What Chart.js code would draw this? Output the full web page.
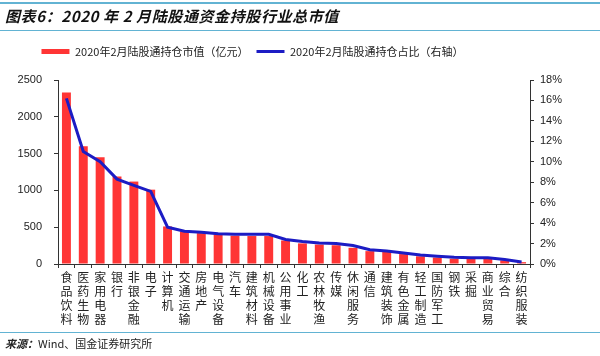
<!DOCTYPE html>
<html>
<head>
<meta charset="utf-8">
<script src="https://cdn.jsdelivr.net/npm/chart.js@4/dist/chart.umd.min.js"></script>
<style>
  html, body { margin: 0; padding: 0; background: #fff; }
  #wrap { position: relative; width: 600px; height: 356px; overflow: hidden; }
  #c { position: absolute; left: 0; top: 0; }
  .rule { position: absolute; left: 0; width: 600px; background: #62b3d3; }
  #title { position: absolute; left: 5px; top: 5px; font: italic bold 15px "Noto Sans CJK SC", sans-serif; letter-spacing: 0.6px; color: #111; line-height: 21px; white-space: nowrap; }
  #source { position: absolute; left: 5px; top: 336px; font: 11px "Noto Sans CJK SC", sans-serif; color: #222; line-height: 15px; white-space: nowrap; }
  #source b { font-style: italic; }
</style>
</head>
<body>
<div id="wrap">
  <canvas id="c" width="600" height="356"></canvas>
  <div class="rule" style="top:2px;height:2px;"></div>
  <div id="title">图表6：2020 年 2 月陆股通资金持股行业总市值</div>
  <div class="rule" style="top:30px;height:1px;"></div>
  <div class="rule" style="top:332px;height:1px;"></div>
  <div id="source"><b>来源：</b>Wind、国金证券研究所</div>
</div>
<script>
const categories = ["食品饮料","医药生物","家用电器","银行","非银金融","电子","计算机","交通运输","房地产","电气设备","汽车","建筑材料","机械设备","公用事业","化工","农林牧渔","传媒","休闲服务","通信","建筑装饰","有色金属","轻工制造","国防军工","钢铁","采掘","商业贸易","综合","纺织服装"];
const marketValue = [2330,1600,1450,1190,1120,1010,510,440,420,400,385,380,380,320,280,265,255,220,175,165,135,105,88,72,72,70,50,25];
const sharePct = [16.2,11.0,10.0,8.3,7.7,7.1,3.6,3.2,3.1,2.95,2.9,2.9,2.9,2.4,2.2,2.05,2.0,1.8,1.4,1.28,1.08,0.88,0.75,0.65,0.62,0.62,0.45,0.2];
const leftTicks = [0,500,1000,1500,2000,2500];
const rightTicks = [0,2,4,6,8,10,12,14,16,18];
const seriesNames = ["2020年2月陆股通持仓市值（亿元）","2020年2月陆股通持仓占比（右轴）"];

const legendMargin = {
  id: 'legendMargin',
  beforeInit(chart) {
    const fit = chart.legend.fit;
    chart.legend.fit = function () { fit.call(this); this.height += 13; };
  },
  afterLayout(chart) {
    chart.legend.left = 0;
    chart.legend.right = 505;
  }
};

new Chart(document.getElementById('c'), {
  type: 'bar',
  data: {
    labels: categories.map(s => s.split('')),
    datasets: [
      {
        type: 'line',
        label: seriesNames[1],
        data: sharePct,
        yAxisID: 'y1',
        borderColor: '#1c1cc4',
        backgroundColor: '#1c1cc4',
        borderWidth: 3,
        pointRadius: 0,
        pointStyle: 'line',
        tension: 0,
        order: 0
      },
      {
        type: 'bar',
        label: seriesNames[0],
        data: marketValue,
        yAxisID: 'y',
        backgroundColor: '#ff3535',
        borderWidth: 0,
        pointStyle: 'rect',
        barPercentage: 0.53,
        categoryPercentage: 1.0,
        order: 1
      }
    ]
  },
  options: {
    responsive: false,
    animation: false,
    layout: { padding: { top: 38, left: 0, right: 0, bottom: 0 } },
    plugins: {
      tooltip: { enabled: false },
      legend: {
        position: 'top',
        align: 'center',
        reverse: true,
        labels: {
          usePointStyle: true,
          pointStyleWidth: 28,
          boxHeight: 5,
          padding: 8,
          color: '#222',
          font: { family: '"Noto Sans CJK SC", sans-serif', size: 11 }
        }
      }
    },
    scales: {
      x: {
        grid: { display: true, drawOnChartArea: false, offset: true, tickLength: 4, color: '#333' },
        border: { display: true, color: '#333', width: 1 },
        ticks: {
          maxRotation: 0, minRotation: 0, autoSkip: false, padding: 2,
          color: '#222',
          font: { family: '"Noto Sans CJK SC", sans-serif', size: 12, lineHeight: '14px' }
        },
        afterFit(scale) { scale.height = 92; }
      },
      y: {
        position: 'left',
        min: 0, max: 2500,
        afterBuildTicks(scale) { scale.ticks = leftTicks.map(v => ({ value: v })); },
        grid: { display: true, drawOnChartArea: false, tickLength: 4, color: '#333' },
        border: { display: true, color: '#333', width: 1 },
        ticks: { padding: 12, color: '#222', font: { family: '"Liberation Sans", Arial, sans-serif', size: 11 }, callback: v => String(v) },
        afterFit(scale) { scale.width = 58; }
      },
      y1: {
        position: 'right',
        min: 0, max: 18,
        afterBuildTicks(scale) { scale.ticks = rightTicks.map(v => ({ value: v })); },
        grid: { display: true, drawOnChartArea: false, tickLength: 4, color: '#333' },
        border: { display: true, color: '#333', width: 1 },
        ticks: { padding: 6, color: '#222', font: { family: '"Liberation Sans", Arial, sans-serif', size: 11 }, callback: v => v + '%' },
        afterFit(scale) { scale.width = 70; }
      }
    }
  },
  plugins: [legendMargin]
});
</script>
</body>
</html>
